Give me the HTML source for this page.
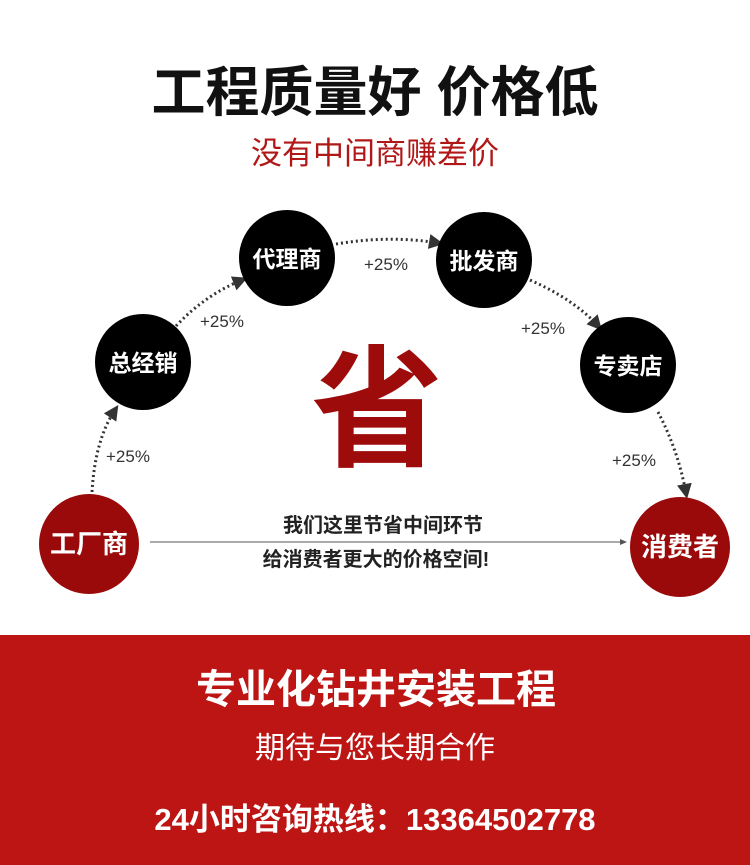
<!DOCTYPE html>
<html><head><meta charset="utf-8"><style>
html,body{margin:0;padding:0;background:#fff;}
svg{display:block;}
text{font-family:"Liberation Sans","Noto Sans CJK SC",sans-serif;}
</style></head><body>
<svg width="750" height="865" viewBox="0 0 750 865" xmlns="http://www.w3.org/2000/svg">
<defs><marker id="a" markerWidth="5" markerHeight="5" refX="3" refY="2.5" orient="auto" markerUnits="strokeWidth"><path d="M0,0 L5,2.5 L0,5 z" fill="#333"/></marker></defs>
<text x="375" y="111" text-anchor="middle" font-size="54" font-weight="bold" fill="#111">工程质量好 价格低</text>
<text x="375" y="164" text-anchor="middle" font-size="31" fill="#b01818">没有中间商赚差价</text>
<g fill="none" stroke="#333" stroke-width="3" stroke-dasharray="2 3" marker-end="url(#a)">
<path d="M92,492 Q95,440 115,410"/>
<path d="M176,326 Q205,295 242,280"/>
<path d="M336,244 Q390,235 438,243"/>
<path d="M530,280 Q575,300 598,326"/>
<path d="M658,412 Q678,450 686,493"/>
</g>
<line x1="150" y1="542" x2="620" y2="542" stroke="#777" stroke-width="1.2"/>
<path d="M620,539 L627,542 L620,545 z" fill="#555"/>
<g font-size="17" fill="#333">
<text x="106" y="462">+25%</text><text x="200" y="327">+25%</text><text x="364" y="270">+25%</text><text x="521" y="334">+25%</text><text x="612" y="466">+25%</text>
</g>
<circle cx="143" cy="362" r="48" fill="#000"/>
<circle cx="287" cy="258" r="48" fill="#000"/>
<circle cx="484" cy="260" r="48" fill="#000"/>
<circle cx="628" cy="365" r="48" fill="#000"/>
<circle cx="89" cy="544" r="50" fill="#9a0a0a"/>
<circle cx="680" cy="547" r="50" fill="#9a0a0a"/>
<g font-size="23" font-weight="bold" fill="#fff" text-anchor="middle">
<text x="143" y="371">总经销</text><text x="287" y="267">代理商</text><text x="484" y="269">批发商</text><text x="628" y="374">专卖店</text>
<text x="89" y="553" font-size="26">工厂商</text><text x="680" y="556" font-size="26">消费者</text>
</g>
<text x="377" y="456" text-anchor="middle" font-size="132" font-weight="bold" fill="#9e0b0b">省</text>
<g font-size="20" font-weight="bold" fill="#222" text-anchor="middle">
<text x="383" y="532">我们这里节省中间环节</text><text x="376" y="566">给消费者更大的价格空间!</text>
</g>
<rect x="0" y="635" width="750" height="230" fill="#bd1414"/>
<g fill="#fff" text-anchor="middle">
<text x="376" y="703" font-size="40" font-weight="bold">专业化钻井安装工程</text>
<text x="375" y="758" font-size="30">期待与您长期合作</text>
<text x="375" y="830" font-size="31" font-weight="bold">24小时咨询热线：13364502778</text>
</g>
</svg>
</body></html>
